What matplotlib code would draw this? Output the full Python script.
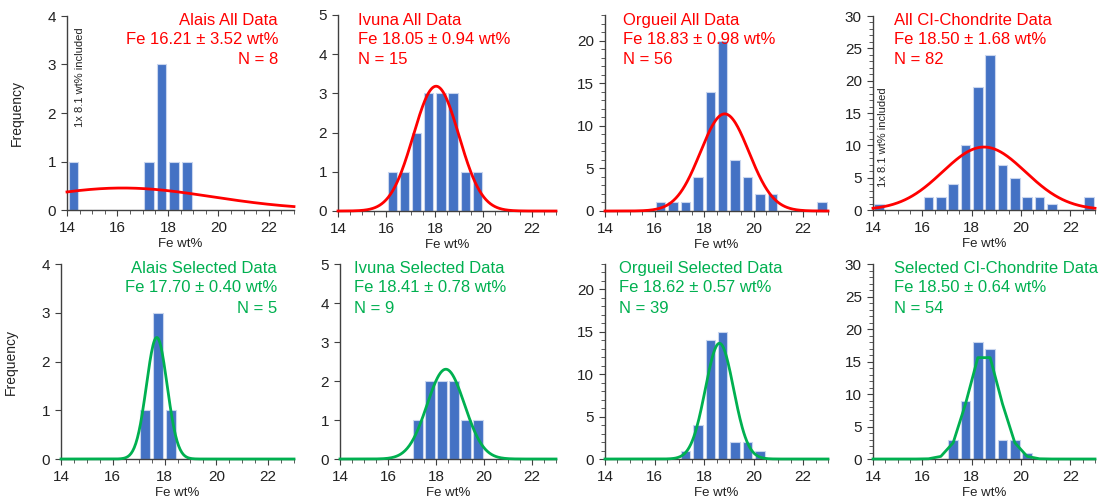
import matplotlib
matplotlib.use("Agg")
import matplotlib.pyplot as plt
from matplotlib.ticker import MultipleLocator
import numpy as np

plt.rcParams["font.family"] = ["Liberation Sans", "DejaVu Sans"]

W, H = 1103, 498

# bin centres (0.5 wt% bins)
bins = [14.25, 14.75, 15.25, 15.75, 16.25, 16.75, 17.25, 17.75, 18.25,
        18.75, 19.25, 19.75, 20.25, 20.75, 21.25, 21.75, 22.25, 22.75]

alais_all = [1, 0, 0, 0, 0, 0, 1, 3, 1, 1, 0, 0, 0, 0, 0, 0, 0, 0]
ivuna_all = [0, 0, 0, 0, 1, 1, 2, 3, 3, 3, 1, 1, 0, 0, 0, 0, 0, 0]
orgueil_all = [0, 0, 0, 0, 1, 1, 1, 4, 14, 20, 6, 4, 2, 2, 0, 0, 0, 1]
ci_all = [1, 0, 0, 0, 2, 2, 4, 10, 19, 24, 7, 5, 2, 2, 1, 0, 0, 2]
alais_sel = [0, 0, 0, 0, 0, 0, 1, 3, 1, 0, 0, 0, 0, 0, 0, 0, 0, 0]
ivuna_sel = [0, 0, 0, 0, 0, 0, 1, 2, 2, 2, 1, 1, 0, 0, 0, 0, 0, 0]
orgueil_sel = [0, 0, 0, 0, 0, 0, 1, 4, 14, 15, 2, 2, 1, 0, 0, 0, 0, 0]
ci_sel = [0, 0, 0, 0, 0, 0, 3, 9, 18, 17, 3, 3, 1, 0, 0, 0, 0, 0]

# fit parameters: title, mean, sd, N
titles = ["Alais All Data", "Ivuna All Data", "Orgueil All Data", "All CI-Chondrite Data",
          "Alais Selected Data", "Ivuna Selected Data", "Orgueil Selected Data",
          "Selected CI-Chondrite Data"]
means = [16.21, 18.05, 18.83, 18.50, 17.70, 18.41, 18.62, 18.50]
sds = [3.52, 0.94, 0.98, 1.68, 0.40, 0.78, 0.57, 0.64]
ns = [8, 15, 56, 82, 5, 9, 39, 54]
ymax = [4, 5, 23, 30, 4, 5, 23, 30]

counts = [alais_all, ivuna_all, orgueil_all, ci_all,
          alais_sel, ivuna_sel, orgueil_sel, ci_sel]

# axes boxes in pixels: left, top, right, bottom
boxes = [(67, 16, 294, 210), (338, 15, 556, 211), (605, 15, 828, 211), (873, 16, 1095, 210),
         (61, 264, 294, 459), (340, 264, 556, 459), (605, 264, 828, 459), (873, 264, 1095, 459)]
# text anchor: x pixel, alignment
text_pos = [(278, "right"), (358, "left"), (623, "left"), (894, "left"),
            (277, "right"), (354, "left"), (619, "left"), (894, "left")]

BAR = "#4472C4"
RED = "#FF0000"
GREEN = "#00B050"

fig = plt.figure(figsize=(W / 100, H / 100), dpi=100)

for i in range(8):
    l, t, r, b = boxes[i]
    ax = fig.add_axes([l / W, 1 - b / H, (r - l) / W, (b - t) / H])
    ax.bar(bins, counts[i], width=0.38, color=BAR, edgecolor="#c9d6ee", linewidth=0.8, zorder=2)

    col = RED if i < 4 else GREEN
    if i == 7:
        xs = np.array([14.0] + bins + [23.0])
    else:
        xs = np.linspace(14, 23, 300)
    ys = ns[i] * 0.5 / (sds[i] * np.sqrt(2 * np.pi)) * np.exp(-0.5 * ((xs - means[i]) / sds[i]) ** 2)
    ax.plot(xs, ys, color=col, lw=2, zorder=3, clip_on=False)

    ax.set_xlim(14, 23)
    ax.set_ylim(0, ymax[i])
    ax.xaxis.set_major_locator(MultipleLocator(2))
    ax.xaxis.set_minor_locator(MultipleLocator(0.5))
    ax.yaxis.set_major_locator(MultipleLocator(5 if ymax[i] > 10 else 1))
    if ymax[i] > 10:
        ax.yaxis.set_minor_locator(MultipleLocator(1))
    for s in ["top", "right"]:
        ax.spines[s].set_visible(False)
    for s in ["left", "bottom"]:
        ax.spines[s].set_color("#404040")
        ax.spines[s].set_linewidth(1)
    ax.tick_params(axis="both", which="major", labelsize=11, length=4, color="#404040",
                   labelcolor="#222222", pad=4)
    ax.tick_params(axis="both", which="minor", length=3, color="#404040")
    ax.set_xlabel("Fe wt%", fontsize=9.5, labelpad=2, color="#222222")
    if i % 4 == 0:
        ax.set_ylabel("Frequency", fontsize=10, color="#222222", labelpad=17)

    tx, ha = text_pos[i]
    y0 = 20 if i < 4 else 268
    lines = [titles[i], f"Fe {means[i]:.2f} \u00b1 {sds[i]:.2f} wt%", f"N = {ns[i]}"]
    for k, line in enumerate(lines):
        fig.text(tx / W, 1 - (y0 + 20 * k) / H, line, ha=ha, va="center",
                 fontsize=12, color=col)

# notes for the 8.1 wt% outlier
fig.text(80 / W, 1 - 77 / H, "1x 8.1 wt% included", rotation=90, ha="center", va="center",
         fontsize=8, color="#222222")
fig.text(883 / W, 1 - 137 / H, "1x 8.1 wt% included", rotation=90, ha="center", va="center",
         fontsize=8, color="#222222")

fig.savefig("out.png", dpi=100)
